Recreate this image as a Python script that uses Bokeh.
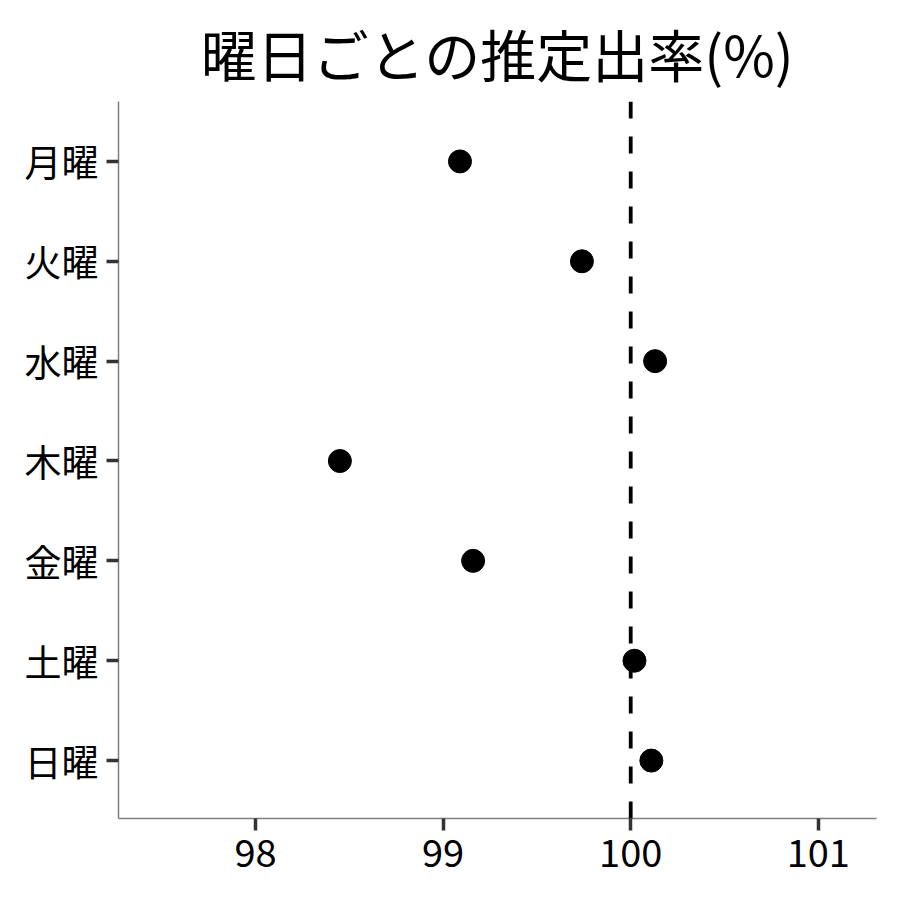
import numpy as np
from bokeh.plotting import figure
from bokeh.models import FixedTicker, Span
from bokeh.embed import file_html
from bokeh.resources import INLINE

days = ["月曜", "火曜", "水曜", "木曜", "金曜", "土曜", "日曜"]
rates = [99.09, 99.74, 100.13, 98.45, 99.16, 100.02, 100.11]
x_ticks = [98, 99, 100, 101]
ref_value = 100

# top row first, as in the picture
ypos = list(range(len(days), 0, -1))

p = figure(width=884, height=884, output_backend="svg", toolbar_location=None,
           x_range=(97.27, 101.31), y_range=(0.42, 7.6),
           min_border_left=118, min_border_right=8,
           min_border_top=100, min_border_bottom=66)

p.title.text = "曜日ごとの推定出率(%)"
p.title.text_font = "Noto Sans CJK JP"
p.title.text_font_size = "56px"
p.title.text_font_style = "normal"
p.title.align = "center"
p.title.text_color = "black"
p.title.standoff = 18

p.scatter(rates, ypos, size=23, color="black")

vline = Span(location=ref_value, dimension="height", line_color="black",
             line_width=3.8, line_dash="17 18")
p.add_layout(vline)

p.xaxis.ticker = FixedTicker(ticks=x_ticks)
p.yaxis.ticker = FixedTicker(ticks=ypos)
p.yaxis.major_label_overrides = {y: d for y, d in zip(ypos, days)}

for ax in [p.xaxis[0], p.yaxis[0]]:
    ax.axis_line_color = "#7f7f7f"
    ax.axis_line_width = 1.5
    ax.major_tick_line_color = "#333333"
    ax.major_tick_line_width = 3.5
    ax.major_tick_in = 0
    ax.major_tick_out = 12
    ax.minor_tick_line_color = None
    ax.major_label_text_font = "Noto Sans CJK JP"
    ax.major_label_text_color = "black"
p.xaxis.major_label_text_font_size = "38px"
p.yaxis.major_label_text_font_size = "37px"
p.yaxis.major_label_standoff = 8
p.xaxis.major_label_standoff = 8

p.grid.grid_line_color = None
p.outline_line_color = None

open("out.html", "w").write(file_html(p, INLINE))
